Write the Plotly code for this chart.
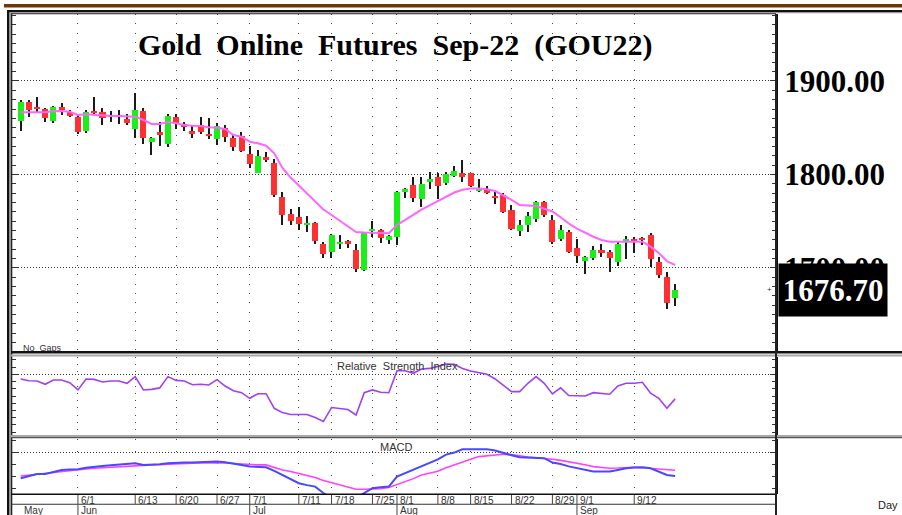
import plotly.graph_objects as go

W, H = 902, 515
def px(x): return x / W
def py(y): return 1 - y / H

# ---------------- data ----------------
idx = list(range(81))
opens = [1857.5,1877,1872.5,1870,1857.5,1872,1867,1861,1846,1868,
         1866.5,1861,1863,1859,1848.6,1868,1835,1845.7,1832.5,1861,
         1854,1846.5,1853,1843,1837.6,1849.4,1838.6,1841.4,1821.5,1801,
         1819,1812,1776,1757.6,1754,1746.5,1748.4,1726,1717,1726.5,
         1729,1719,1698,1739,1741,1730,1733.3,1781.5,1788.6,1773.6,
         1792,1797,1790.5,1798.6,1801,1801,1783.3,1783.3,1777.3,1778,
         1762,1739.7,1745.8,1752,1771,1751,1730.5,1738.7,1721.5,1707.6,
         1710.8,1719,1716.6,1706.4,1728.4,1730.5,1731.6,1735,1706.6,1690.5,
         1668]
highs = [1880,1880,1883,1871,1873,1876,1869,1864,1869,1883,
         1871,1868,1869,1865,1887,1871,1840.4,1856,1865,1865,
         1856,1852,1861,1860,1855,1853,1842,1845.7,1830,1826,
         1824,1817,1781.5,1762.6,1765.5,1755.5,1749.4,1728,1736.4,1735,
         1729.5,1726,1737,1750.5,1742,1735,1782,1785,1797,1797.6,
         1803,1801,1803,1809.3,1815,1801.5,1794.7,1787.6,1781.5,1780,
         1767.2,1751,1760,1772,1772,1756.6,1745.8,1740.5,1730.5,1712.6,
         1723.3,1725,1719,1729,1734,1733.3,1733.3,1737,1711.3,1696,
         1682.7]
lows = [1847,1861,1867,1856,1855,1864,1861,1843,1844,1864,
        1853,1856,1854,1853,1838.6,1833,1821,1830,1829.7,1849,
        1847,1838.6,1843,1837.6,1831.5,1835,1825.4,1824,1806.5,1801,
        1813.6,1776,1746,1746,1741,1738.7,1725.4,1710,1710,1720,
        1721,1696,1697,1733,1727,1725.5,1724,1774.4,1771,1765,
        1784,1774,1789,1797,1791.5,1787,1781.5,1779,1768.3,1759,
        1740,1734,1738,1749.4,1754.7,1725.5,1729,1715.6,1705.5,1693.4,
        1708.3,1711.3,1696,1702,1709,1716.2,1724.4,1701,1689,1655.6,
        1659]
closes = [1877,1869,1870,1860,1872,1869,1862.5,1845,1867,1866,
          1860,1864,1862,1855,1869,1838.6,1839,1842,1862.5,1855,
          1851,1843,1845.7,1841.4,1852,1839.7,1829.7,1825.4,1810.8,1819.7,
          1815.4,1778,1756.5,1750.4,1747,1747.5,1729,1714.8,1735,1727.5,
          1725.5,1698.3,1737,1742,1731.6,1734,1781.5,1784,1774.4,1789.4,
          1795,1787.6,1800,1803.4,1797,1788,1785,1780.5,1775,1760,
          1741.2,1745.8,1755.5,1771,1756.6,1728,1740.5,1716.6,1713,1711.3,
          1719,1715.6,1710.8,1726,1730.5,1727.6,1730.5,1709,1692.3,1662,
          1676.7]
ma = [1866.5,1866.5,1866.5,1866.5,1867.6,1867.9,1867.1,1863.6,1864.3,1863.6,
      1862.9,1862.5,1862.5,1862.5,1861.8,1858.2,1854.0,1854.0,1856.1,1854.7,
      1852.9,1852.1,1851.8,1850.4,1850.0,1848.6,1842.2,1840.4,1835.0,1833.3,
      1830.7,1822.6,1807.0,1796.6,1787.9,1779.0,1770.4,1762.4,1756.5,1750.5,
      1744.4,1738.4,1737.8,1737.5,1737.3,1737.0,1745.8,1751.4,1757.0,1762.3,
      1766.8,1771.5,1775.8,1780.6,1783.6,1784.9,1784.9,1784.0,1782.2,1777.7,
      1772.8,1767.2,1766.7,1766.2,1763.3,1760.3,1754.1,1747.4,1741.9,1737.5,
      1733.3,1729.8,1727.9,1727.9,1727.9,1727.9,1727.9,1722.7,1716.0,1707.0,
      1703.0]
rsi = [66.8,65.6,65.4,63.1,66.1,66.1,64.2,59.2,66.8,66.5,
       64.7,65.4,65.4,63.8,68.4,59.2,59.6,60.6,68.4,65.8,
       65.4,62.8,63.1,62.6,66.3,61.9,58.7,57.3,53.4,56.6,
       56.6,46.5,43.5,42.2,42.2,42.2,40.1,37.3,47.0,46.1,
       45.6,41.9,57.3,59.2,57.6,57.3,72.5,72.5,70.7,73.7,
       74.1,75.5,77.1,76.9,74.1,72.3,71.1,70.0,66.8,62.6,
       58.0,58.0,63.8,68.4,63.8,56.4,60.6,55.3,55.0,55.0,
       57.3,56.9,56.2,61.9,63.8,63.8,64.5,56.9,53.4,46.5,
       53.0]
macd = [-10.85,-10.0,-9.04,-9.04,-8.2,-7.38,-7.25,-7.1,-6.5,-6.0,
        -5.7,-5.4,-5.1,-4.85,-4.6,-5.29,-5.2,-5.0,-4.6,-4.32,
        -4.3,-4.32,-4.2,-4.1,-3.9,-4.2,-4.6,-5.3,-5.99,-6.2,
        -6.26,-7.8,-9.46,-11.2,-12.93,-13.7,-14.32,-17.0,-19.0,-20.0,
        -20.0,-19.0,-17.1,-15.01,-14.6,-14.32,-10.15,-8.76,-7.4,-5.99,
        -4.6,-3.0,-1.0,-0.15,1.24,1.24,1.24,1.24,0.68,-0.43,
        -1.3,-2.1,-2.3,-2.4,-2.51,-4.32,-4.88,-5.9,-6.68,-7.4,
        -8.07,-8.07,-8.07,-7.4,-6.68,-6.4,-6.26,-6.68,-8.0,-9.46,
        -9.88]
signal = [-9.88,-9.5,-9.1,-8.7,-8.3,-7.9,-7.6,-7.3,-7.0,-6.7,
          -6.45,-6.2,-5.95,-5.7,-5.71,-5.5,-5.3,-5.1,-4.95,-4.88,
          -4.75,-4.6,-4.45,-4.35,-4.32,-4.5,-4.7,-4.9,-5.29,-5.29,
          -5.29,-6.3,-7.38,-8.0,-8.76,-9.6,-10.5,-11.82,-12.7,-13.5,
          -14.5,-15.43,-15.43,-15.43,-15.2,-14.7,-13.5,-12.24,-11.0,-9.46,
          -8.6,-7.9,-6.5,-5.2,-3.9,-2.9,-1.82,-1.4,-1.13,-0.85,
          -1.0,-1.54,-2.0,-2.3,-2.51,-2.9,-3.4,-3.9,-4.5,-5.2,
          -5.99,-6.4,-6.68,-6.6,-6.4,-6.26,-6.5,-6.82,-7.1,-7.38,
          -7.51]
date_tick_idx = [7, 14, 19, 24, 28, 34, 38, 43, 46, 51, 55, 60, 65, 68, 75]
date_tick_text = ["6/1", "6/13", "6/20", "6/27", "7/1", "7/11", "7/18", "7/25",
                  "8/1", "8/8", "8/15", "8/22", "8/29", "9/1", "9/12"]
month_idx = [0, 7, 28, 46, 68]
month_text = ["May", "Jun", "Jul", "Aug", "Sep"]
price_ticks = [1700, 1800, 1900]
last_price = 1676.70
title_text = "Gold\u00a0\u00a0Online\u00a0\u00a0Futures\u00a0\u00a0Sep-22\u00a0\u00a0(GOU22)"

# ---------------- styling ----------------
GREEN = "#18F018"
RED = "#FF3030"
SERIF = "Liberation Serif"
SANS = "Liberation Sans"

colors = [GREEN if c >= o else RED for o, c in zip(opens, closes)]
body_base = [min(o, c) for o, c in zip(opens, closes)]
body_h = [max(abs(c - o), 0.7) for o, c in zip(opens, closes)]
wick_h = [h - l for h, l in zip(highs, lows)]

fig = go.Figure()
fig.add_trace(go.Bar(x=idx, y=wick_h, base=lows, width=0.14,
                     marker=dict(color="#1a1a1a", line=dict(width=0)),
                     xaxis="x", yaxis="y", hoverinfo="skip"))
fig.add_trace(go.Bar(x=idx, y=body_h, base=body_base, width=0.74,
                     marker=dict(color=colors, line=dict(width=0)),
                     xaxis="x", yaxis="y", hoverinfo="skip"))
fig.add_trace(go.Scatter(x=idx, y=ma, mode="lines",
                         line=dict(color="#FF66FF", width=2),
                         xaxis="x", yaxis="y"))
fig.add_trace(go.Scatter(x=idx, y=rsi, mode="lines",
                         line=dict(color="#A040F0", width=1.6),
                         xaxis="x2", yaxis="y2"))
fig.add_trace(go.Scatter(x=idx, y=signal, mode="lines",
                         line=dict(color="#FF40FF", width=1.6),
                         xaxis="x3", yaxis="y3"))
fig.add_trace(go.Scatter(x=idx, y=macd, mode="lines",
                         line=dict(color="#4848FF", width=2),
                         xaxis="x3", yaxis="y3"))

xr = [-1.06, 92.33]
xdom = [px(12), px(776)]
def xax(anchor, dash, match=None):
    d = dict(domain=xdom, range=xr, anchor=anchor, showticklabels=False,
             tickvals=date_tick_idx, ticks="", showgrid=True,
             gridcolor="#444", gridwidth=1, griddash=dash,
             zeroline=False, showline=False, fixedrange=True)
    if match:
        d["matches"] = match
    return d

def yax(domain, rng, tickvals, minor_dtick, anchor, labels=False):
    d = dict(domain=domain, range=rng, anchor=anchor, side="right",
             tickvals=tickvals, ticks="inside", ticklen=6, tickcolor="#333",
             showgrid=True, gridcolor="#333", gridwidth=1, griddash="1px,2px",
             zeroline=False, showline=True, linecolor="#111", linewidth=2,
             mirror="ticks",
             minor=dict(dtick=minor_dtick, tick0=0, ticks="inside", ticklen=4,
                        tickcolor="#333", showgrid=False),
             showticklabels=labels, fixedrange=True)
    return d

yprice = yax([py(352), py(14)], [1609.9, 1971.7], price_ticks, 10, "x", True)
yprice.update(ticktext=[f"{v:.2f}" for v in price_ticks],
              tickfont=dict(family=SERIF, size=31, color="black", weight="bold"))

fig.update_layout(
    width=W, height=H, autosize=False,
    margin=dict(l=0, r=0, t=0, b=0),
    paper_bgcolor="white", plot_bgcolor="white",
    showlegend=False, barmode="overlay", bargap=0,
    xaxis=xax("y", "1px,8.3px"),
    xaxis2=xax("y2", "1px,6.2px", "x"),
    xaxis3=xax("y3", "1px,11px", "x"),
    yaxis=yprice,
    yaxis2=yax([py(435), py(357)], [28, 82], [70], 5, "x2"),
    yaxis3=yax([py(494), py(439)], [-17.4, 5.5], [0], 5, "x3"),
)

shapes = []
def rect(x0, y0, x1, y1, color):
    shapes.append(dict(type="rect", xref="paper", yref="paper",
                       x0=px(x0), x1=px(x1), y0=py(y0), y1=py(y1),
                       fillcolor=color, line=dict(width=0), layer="above"))

# brown top bar
rect(4, 4, 902, 7.5, "#6B3806")
# outer frame top and left (double line look)
rect(7, 10, 902, 12, "#111")
rect(7, 12, 902, 13.3, "#9a9a9a")
rect(12, 13.3, 776, 14.3, "#222")
rect(7, 10, 9.5, 515, "#111")
rect(9.5, 12, 11, 515, "#9a9a9a")
rect(11, 13.3, 12.3, 515, "#222")
# price / RSI separator
rect(11, 351, 902, 353.5, "#111")
rect(11, 354.5, 902, 356.5, "#a8a8a8")
# RSI / MACD separator
rect(11, 435, 902, 437, "#a8a8a8")
rect(11, 437, 902, 438.2, "#555")
# MACD bottom and date row
rect(11, 493.5, 776, 495, "#111")
rect(11, 503.8, 776, 504.8, "#333")
# right axis line down to bottom
rect(775, 14, 777, 515, "#222")

for t in date_tick_idx:
    shapes.append(dict(type="line", xref="x3", yref="paper", x0=t, x1=t,
                       y0=py(495), y1=py(504), line=dict(color="#444", width=1)))
for t in month_idx[1:]:
    shapes.append(dict(type="line", xref="x3", yref="paper", x0=t, x1=t,
                       y0=py(504.5), y1=py(515), line=dict(color="#444", width=1)))
fig.update_layout(shapes=shapes)

ann = []
ann.append(dict(text=title_text, xref="paper", yref="paper", x=px(395), y=py(45),
                xanchor="center", yanchor="middle", showarrow=False,
                font=dict(family=SERIF, size=30, color="black", weight="bold")))
ann.append(dict(text="No  Gaps", xref="paper", yref="paper", x=px(21), y=py(348),
                xanchor="left", yanchor="middle", showarrow=False,
                font=dict(family=SANS, size=9, color="#333")))
ann.append(dict(text="Relative  Strength  Index", xref="paper", yref="paper",
                x=px(335), y=py(366), xanchor="left", yanchor="middle",
                showarrow=False, font=dict(family=SANS, size=11, color="#333")))
ann.append(dict(text="MACD", xref="paper", yref="paper", x=px(378), y=py(447),
                xanchor="left", yanchor="middle", showarrow=False,
                font=dict(family=SANS, size=11, color="#333")))
for t, s in zip(date_tick_idx, date_tick_text):
    ann.append(dict(text=s, xref="x3", yref="paper", x=t, y=py(500),
                    xanchor="left", yanchor="middle", xshift=1, showarrow=False,
                    font=dict(family=SANS, size=10, color="#333")))
for t, s in zip(month_idx, month_text):
    ann.append(dict(text=s, xref="x3", yref="paper", x=t, y=py(510),
                    xanchor="left", yanchor="middle", xshift=1, showarrow=False,
                    font=dict(family=SANS, size=10, color="#333")))
ann.append(dict(text="Day", xref="paper", yref="paper", x=px(900), y=py(505),
                xanchor="right", yanchor="middle", showarrow=False,
                font=dict(family=SANS, size=11, color="#222")))
ann.append(dict(text=f"{last_price:.2f}", xref="paper", yref="y",
                x=px(778), y=last_price, xanchor="left", yanchor="middle",
                showarrow=False, bgcolor="black", width=108, height=52,
                borderpad=0,
                font=dict(family=SERIF, size=31, color="white", weight="bold")))
ann.append(dict(text="+", xref="paper", yref="y", x=px(769), y=last_price,
                xanchor="center", yanchor="middle", showarrow=False,
                font=dict(family=SANS, size=8, color="#333")))
fig.update_layout(annotations=ann)

fig.write_html(
    "out.html",
    config={"displayModeBar": False},
    post_script="document.body.style.margin='0';document.body.style.overflow='hidden';",
)
